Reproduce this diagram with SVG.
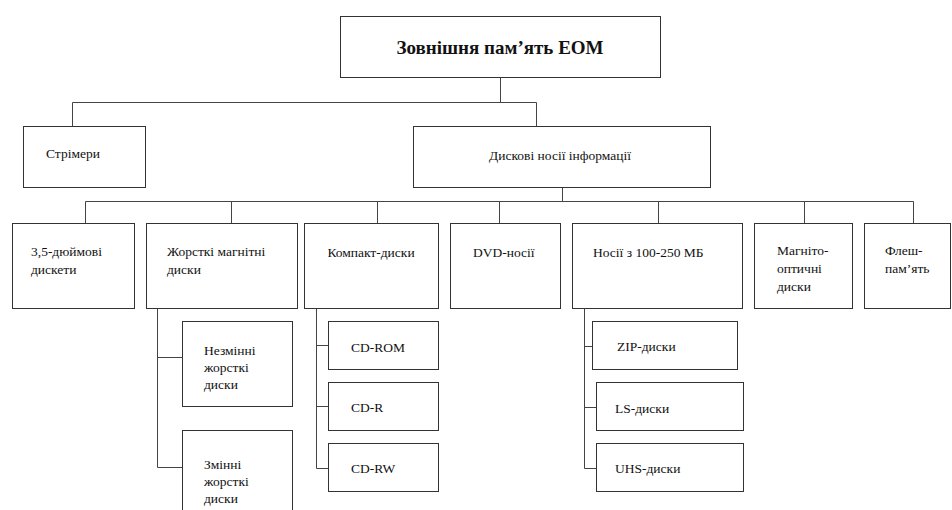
<svg xmlns="http://www.w3.org/2000/svg" width="952" height="510" viewBox="0 0 952 510">
<style>
.box{fill:#fff;stroke:#333;stroke-width:1}
.t{font-family:'Liberation Serif','DejaVu Serif',serif;font-size:13.5px;fill:#111}
.title{font-family:'Liberation Serif','DejaVu Serif',serif;font-size:19px;font-weight:bold;fill:#111}
.c{fill:none;stroke:#444;stroke-width:1}
</style>
<rect width="952" height="510" fill="#fff"/>
<g id="connectors">
<path class="c" d="M500.5 77V102.5M72.5 126V102.5H536.5V126"/>
<path class="c" d="M562.5 187V201.5M85.5 223V201.5H913.5V223M231.5 201.5V223M377.5 201.5V223M499.5 201.5V223M658.5 201.5V223M804.5 201.5V223"/>
<path class="c" d="M157.5 308V467.5H182M157.5 357.5H182"/>
<path class="c" d="M316.5 308V468.5H328M316.5 345.5H328M316.5 406.5H328"/>
<path class="c" d="M584.5 308V468.5H596M584.5 346.5H597M584.5 407.5H596"/>
</g>
<g id="n-root"><rect class="box" x="340.5" y="16.5" width="320" height="61"/><text class="title" x="500" y="54" text-anchor="middle">Зовнішня пам’ять ЕОМ</text></g>
<g id="n-strimery"><rect class="box" x="23.5" y="126.5" width="122" height="61"/><text class="t" x="46" y="158">Стрімери</text></g>
<g id="n-dyskovi"><rect class="box" x="413.5" y="126.5" width="297" height="61"/><text class="t" x="560" y="160" text-anchor="middle">Дискові носії інформації</text></g>
<g id="n-dyskety"><rect class="box" x="12.5" y="223.5" width="122" height="85"/><text class="t" x="31" y="256">3,5-дюймові</text><text class="t" x="31" y="274">дискети</text></g>
<g id="n-zhorstki"><rect class="box" x="146.5" y="223.5" width="151" height="85"/><text class="t" x="167" y="256">Жорсткі магнітні</text><text class="t" x="167" y="274">диски</text></g>
<g id="n-kompakt"><rect class="box" x="304.5" y="223.5" width="134" height="85"/><text class="t" x="371" y="257" text-anchor="middle">Компакт-диски</text></g>
<g id="n-dvd"><rect class="box" x="450.5" y="223.5" width="110" height="85"/><text class="t" x="473" y="257">DVD-носії</text></g>
<g id="n-nosii"><rect class="box" x="572.5" y="223.5" width="170" height="85"/><text class="t" x="593" y="257">Носії з 100-250 МБ</text></g>
<g id="n-magnito"><rect class="box" x="754.5" y="223.5" width="98" height="85"/><text class="t" x="777" y="255">Магніто-</text><text class="t" x="777" y="273">оптичні</text><text class="t" x="777" y="291">диски</text></g>
<g id="n-flesh"><rect class="box" x="864.5" y="223.5" width="86" height="85"/><text class="t" x="885" y="255">Флеш-</text><text class="t" x="885" y="273">пам’ять</text></g>
<g id="n-nezminni"><rect class="box" x="182.5" y="321.5" width="110" height="85"/><text class="t" x="204" y="355">Незмінні</text><text class="t" x="204" y="372">жорсткі</text><text class="t" x="204" y="389">диски</text></g>
<g id="n-zminni"><rect class="box" x="182.5" y="430.5" width="110" height="85"/><text class="t" x="204" y="469">Змінні</text><text class="t" x="204" y="486">жорсткі</text><text class="t" x="204" y="503">диски</text></g>
<g id="n-cdrom"><rect class="box" x="328.5" y="321.5" width="110" height="48"/><text class="t" x="351" y="352">CD-ROM</text></g>
<g id="n-cdr"><rect class="box" x="328.5" y="382.5" width="110" height="48"/><text class="t" x="351" y="412">CD-R</text></g>
<g id="n-cdrw"><rect class="box" x="328.5" y="443.5" width="110" height="48"/><text class="t" x="351" y="473">CD-RW</text></g>
<g id="n-zip"><rect class="box" x="592.5" y="321.5" width="145" height="48"/><text class="t" x="617" y="351">ZIP-диски</text></g>
<g id="n-ls"><rect class="box" x="596.5" y="382.5" width="147" height="48"/><text class="t" x="615" y="413">LS-диски</text></g>
<g id="n-uhs"><rect class="box" x="596.5" y="443.5" width="147" height="48"/><text class="t" x="615" y="473">UHS-диски</text></g>
</svg>
